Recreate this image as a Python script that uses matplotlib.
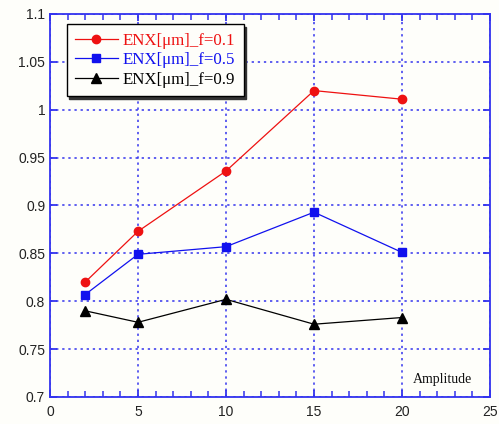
import numpy as np
import matplotlib.pyplot as plt
from matplotlib.ticker import MultipleLocator

# data
amplitude = [2, 5, 10, 15, 20]
enx_01 = [0.820, 0.873, 0.936, 1.020, 1.011]
enx_05 = [0.807, 0.849, 0.857, 0.893, 0.851]
enx_09 = [0.790, 0.778, 0.802, 0.776, 0.783]
labels = ['ENX[\u03bcm]_f=0.1', 'ENX[\u03bcm]_f=0.5', 'ENX[\u03bcm]_f=0.9']
xticks = [0, 5, 10, 15, 20, 25]
yticks = [0.7, 0.75, 0.8, 0.85, 0.9, 0.95, 1.0, 1.05, 1.1]
ytick_labels = ['0.7', '0.75', '0.8', '0.85', '0.9', '0.95', '1', '1.05', '1.1']

bg = '#fefefa'
blue = '#3333ee'

fig = plt.figure(figsize=(4.99, 4.24), dpi=100, facecolor=bg)
ax = fig.add_axes([0.1002, 0.0637, 0.8818, 0.9033], facecolor=bg)

ax.plot(amplitude, enx_01, color='#ee1111', lw=0.9, marker='o', ms=6, label=labels[0])
ax.plot(amplitude, enx_05, color='#1111ee', lw=0.9, marker='s', ms=6, label=labels[1])
ax.plot(amplitude, enx_09, color='black', lw=0.9, marker='^', ms=6.5, label=labels[2])

ax.set_xlim(0, 25)
ax.set_ylim(0.7, 1.1)
ax.set_xticks(xticks)
ax.set_xticklabels([str(v) for v in xticks])
ax.xaxis.set_minor_locator(MultipleLocator(1))
ax.set_yticks(yticks)
ax.set_yticklabels(ytick_labels)

ax.grid(True, which='major', color=blue, ls=(0, (1.5, 2.5)), lw=1.1)
for s in ax.spines.values():
    s.set_color(blue)
    s.set_linewidth(1.3)

ax.tick_params(which='both', direction='in', top=True, right=True, color=blue,
               labelsize=10, labelcolor='#222222', labelfontfamily='Liberation Sans')
ax.tick_params(which='major', length=5, width=1.3)
ax.tick_params(which='minor', length=4, width=1.1, left=False, right=False)
ax.tick_params(axis='x', which='major', pad=6)

ax.text(20.6, 0.715, 'Amplitude', family='Liberation Serif', fontsize=10, color='#111111')

leg = ax.legend(loc='upper left', bbox_to_anchor=(0.038, 0.973), frameon=True, fancybox=False,
                shadow={'color': '#333333', 'alpha': 1.0}, prop={'family': 'Liberation Serif', 'size': 12.2},
                handlelength=2.5, handletextpad=0.3, labelspacing=0.2, borderpad=0.5, borderaxespad=0)
leg.get_frame().set_edgecolor('black')
leg.get_frame().set_linewidth(1.0)
leg.get_frame().set_facecolor(bg)
for t, c in zip(leg.get_texts(), ['#ee1111', '#1111ee', 'black']):
    t.set_color(c)

fig.savefig('out.png', dpi=100, facecolor=bg)
